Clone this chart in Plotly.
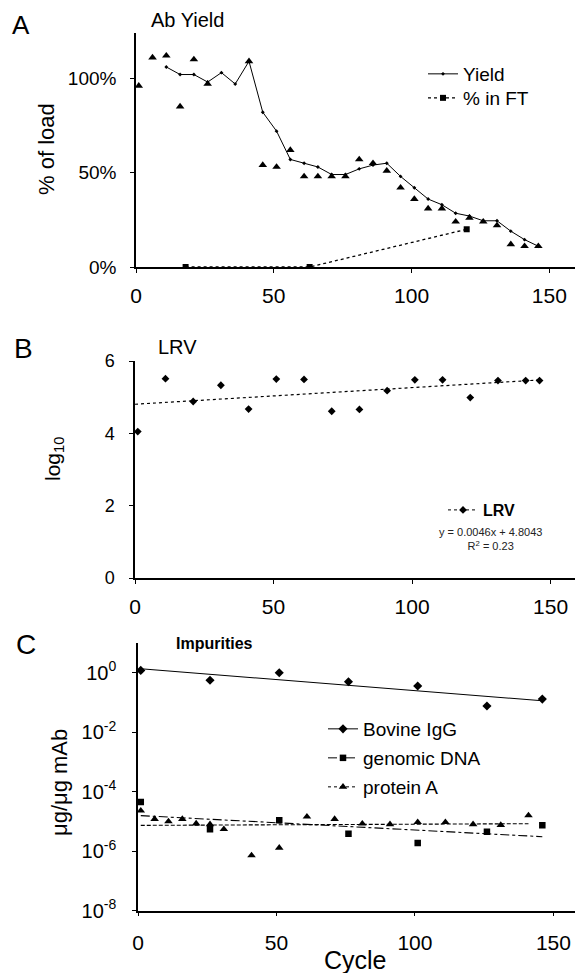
import numpy as np
import plotly.graph_objects as go

# ---------------- Data ----------------
# Panel A: Ab Yield
tri_cycles = [1, 6, 11, 16, 21, 26, 41, 46, 51, 56, 61, 66, 71, 76, 81, 86, 91, 96,
              101, 106, 111, 116, 121, 126, 131, 136, 141, 146]
tri_values = [96, 111, 112, 85, 110, 97, 109, 54, 53, 62, 48, 48, 48, 48, 57, 55, 51, 42,
              36, 31, 31, 24, 26, 24, 22, 12, 11, 11]
yield_cycles = [11, 16, 21, 26, 31, 36, 41, 46, 51, 56, 61, 66, 71, 76, 81, 86, 91, 96,
                101, 106, 111, 116, 121, 126, 131, 136, 141, 146]
yield_values = [106, 102, 102, 98, 103, 97, 109, 82, 72, 57, 55, 53, 49, 49, 52, 54, 55, 48,
                42, 36, 33, 28.5, 27, 24.5, 24.5, 19, 14.5, 11]
ft_cycles = [18, 63, 120]
ft_values = [0, 0, 20]

# Panel B: LRV
lrv_cycles = [1, 11, 21, 31, 41, 51, 61, 71, 81, 91, 101, 111, 121, 131, 141, 146]
lrv_values = [4.05, 5.51, 4.88, 5.33, 4.67, 5.5, 5.49, 4.61, 4.66, 5.18, 5.48, 5.48,
              4.99, 5.46, 5.46, 5.46]
lrv_slope = 0.0046
lrv_intercept = 4.8043
lrv_r2 = 0.23

# Panel C: Impurities
igg_cycles = [1, 26, 51, 76, 101, 126, 146]
igg_values = [1.2, 0.56, 1.0, 0.5, 0.36, 0.076, 0.13]
dna_cycles = [1, 26, 51, 76, 101, 126, 146]
dna_values = [4.5e-5, 5.5e-6, 1.1e-5, 3.9e-6, 1.9e-6, 4.5e-6, 7.5e-6]
pa_cycles = [1, 6, 11, 16, 21, 26, 31, 41, 51, 61, 71, 81, 91, 101, 111, 121, 131, 141]
pa_values = [2.3e-5, 1.2e-5, 1.0e-5, 1.2e-5, 8.5e-6, 8e-6, 5.5e-6, 7.2e-7, 1.3e-6,
             1.45e-5, 1.2e-5, 8.4e-6, 8e-6, 9.5e-6, 9.5e-6, 8e-6, 7.6e-6, 1.6e-5]

x_ticks = [0, 50, 100, 150]
a_yticks = [0, 50, 100]
a_yticktext = ["0%", "50%", "100%"]
b_yticks = [0, 2, 4, 6]
c_yticks = [1e0, 1e-2, 1e-4, 1e-6, 1e-8]
c_yticktext = ["10<sup>0</sup>", "10<sup>-2</sup>", "10<sup>-4</sup>", "10<sup>-6</sup>", "10<sup>-8</sup>"]

W, H = 575, 973
FONT = "Liberation Sans, Arial, Helvetica, sans-serif"


def gapped(xs, ys):
    gx, gy = [], []
    for a, b in zip(xs, ys):
        gx += [a, None]
        gy += [b, None]
    return gx, gy


def log_fit(xs, ys):
    coef = np.polyfit(xs, np.log10(ys), 1)
    xe = [min(xs), max(xs)]
    return xe, [10 ** np.polyval(coef, v) for v in xe]


fig = go.Figure()

# ---- Panel A ----
fig.add_trace(go.Scatter(x=tri_cycles, y=tri_values, mode="markers", showlegend=False,
                         marker=dict(symbol="triangle-up", size=7.5, color="black"),
                         xaxis="x", yaxis="y"))
fig.add_trace(go.Scatter(x=yield_cycles, y=yield_values, mode="lines+markers", name="Yield",
                         line=dict(color="black", width=1),
                         marker=dict(symbol="diamond", size=3, color="black"),
                         xaxis="x", yaxis="y", legend="legend"))
fig.add_trace(go.Scatter(x=ft_cycles, y=ft_values, mode="lines+markers", name="% in FT",
                         line=dict(color="black", width=1.3, dash="dot"),
                         marker=dict(symbol="square", size=6, color="black"),
                         xaxis="x", yaxis="y", legend="legend4"))

# ---- Panel B ----
gx, gy = gapped(lrv_cycles, lrv_values)
fig.add_trace(go.Scatter(x=gx, y=gy, mode="lines+markers", name="<b>LRV</b>",
                         connectgaps=False,
                         line=dict(color="black", width=1, dash="dot"),
                         marker=dict(symbol="diamond", size=6, color="black"),
                         xaxis="x2", yaxis="y2", legend="legend2"))
tx = [0, max(lrv_cycles)]
fig.add_trace(go.Scatter(x=tx, y=[lrv_slope * v + lrv_intercept for v in tx], mode="lines",
                         showlegend=False, line=dict(color="black", width=1.2, dash="dot"),
                         xaxis="x2", yaxis="y2"))

# ---- Panel C ----
series = [
    ("Bovine IgG", igg_cycles, igg_values, "diamond", 7, "solid", "solid", "legend3"),
    ("genomic DNA", dna_cycles, dna_values, "square", 6.5, "dash", "dashdot", "legend5"),
    ("protein A", pa_cycles, pa_values, "triangle-up", 7.5, "dot", "4px,2px", "legend6"),
]
for name, xs, ys, sym, size, ldash, tdash, lg in series:
    gx, gy = gapped(xs, ys)
    fig.add_trace(go.Scatter(x=gx, y=gy, mode="lines+markers", name=name, connectgaps=False,
                             line=dict(color="black", width=1, dash=ldash),
                             marker=dict(symbol=sym, size=size, color="black"),
                             xaxis="x3", yaxis="y3", legend=lg))
    fx, fy = log_fit(xs, ys)
    fig.add_trace(go.Scatter(x=fx, y=fy, mode="lines", showlegend=False,
                             line=dict(color="black", width=1.1, dash=tdash),
                             xaxis="x3", yaxis="y3"))


def py(p):
    return 1 - p / H


def px(p):
    return p / W


axis_common = dict(showline=True, linecolor="black", linewidth=1.5, showgrid=False,
                   zeroline=False, ticks="outside", ticklen=4, tickcolor="black",
                   tickwidth=1.2, color="black", automargin=False)


def leg(x, ytop, size):
    return dict(x=px(x), y=py(ytop), xanchor="left", yanchor="top",
                bgcolor="rgba(0,0,0,0)", font=dict(size=size), itemwidth=30)


fig.update_layout(
    width=W, height=H, margin=dict(l=0, r=0, t=0, b=0, pad=0, autoexpand=False),
    paper_bgcolor="white", plot_bgcolor="white",
    font=dict(family=FONT, color="black"),
    xaxis=dict(domain=[px(136), 1.0], range=[0, 159.3], tickvals=x_ticks, anchor="y",
               tickfont=dict(size=21), ticklabelstandoff=5, **axis_common),
    yaxis=dict(domain=[py(267), py(33)], range=[0, 124], tickvals=a_yticks,
               ticktext=a_yticktext, anchor="x", tickfont=dict(size=19),
               ticklabelstandoff=10, **axis_common),
    xaxis2=dict(domain=[px(135), 1.0], range=[0, 158.8], tickvals=x_ticks, anchor="y2",
                tickfont=dict(size=21), ticklabelstandoff=5, **axis_common),
    yaxis2=dict(domain=[py(578), py(361)], range=[0, 6], tickvals=b_yticks, anchor="x2",
                tickfont=dict(size=18), ticklabelstandoff=11, **axis_common),
    xaxis3=dict(domain=[px(138), 1.0], range=[0, 157.8], tickvals=x_ticks, anchor="y3",
                tickfont=dict(size=21), ticklabelstandoff=8, **axis_common),
    yaxis3=dict(domain=[py(910.7), py(643)], type="log", range=[-8, 1], tickvals=c_yticks,
                ticktext=c_yticktext, anchor="x3", tickfont=dict(size=20),
                ticklabelstandoff=12, **axis_common),
    legend=leg(423, 55, 19),
    legend4=leg(423, 79, 19),
    legend2=leg(443, 493, 16),
    legend3=leg(323, 710, 19),
    legend5=leg(323, 739, 19),
    legend6=leg(323, 768, 19),
)

ann = [
    dict(text="A", x=px(10), y=py(25), size=26),
    dict(text="Ab Yield", x=px(149), y=py(20), size=20),
    dict(text="B", x=px(12), y=py(349), size=28),
    dict(text="LRV", x=px(156), y=py(347), size=20),
    dict(text="C", x=px(14), y=py(644), size=28),
    dict(text="<b>Impurities</b>", x=px(174), y=py(643), size=16),
]
for a in ann:
    fig.add_annotation(text=a["text"], x=a["x"], y=a["y"], xref="paper", yref="paper",
                       xanchor="left", yanchor="middle", showarrow=False,
                       font=dict(size=a["size"], family=FONT, color="black"))

# equation annotation for LRV trendline
fig.add_annotation(text=f"y = {lrv_slope}x + {lrv_intercept}<br>R<sup>2</sup> = {lrv_r2}",
                   x=px(490), y=py(539), xref="paper", yref="paper", showarrow=False,
                   xanchor="center", yanchor="middle", align="center",
                   font=dict(size=11, family=FONT, color="#222"))

# axis titles (rotated)
for text, xc, yc, size in [("% of load", 46, 149, 22), ("log<sub>10</sub>", 54, 459, 21),
                           ("\u03bcg/\u03bcg mAb", 59, 783, 22)]:
    fig.add_annotation(text=text, x=px(xc), y=py(yc), xref="paper", yref="paper",
                       textangle=-90, showarrow=False, xanchor="center", yanchor="middle",
                       font=dict(size=size, family=FONT, color="black"))
fig.add_annotation(text="Cycle", x=px(355), y=py(960), xref="paper", yref="paper",
                   showarrow=False, xanchor="center", yanchor="middle",
                   font=dict(size=25, family=FONT, color="black"))

fig.write_html("out.html", config={"displayModeBar": False},
               post_script="document.body.style.margin='0px';document.body.style.overflow='hidden';")
